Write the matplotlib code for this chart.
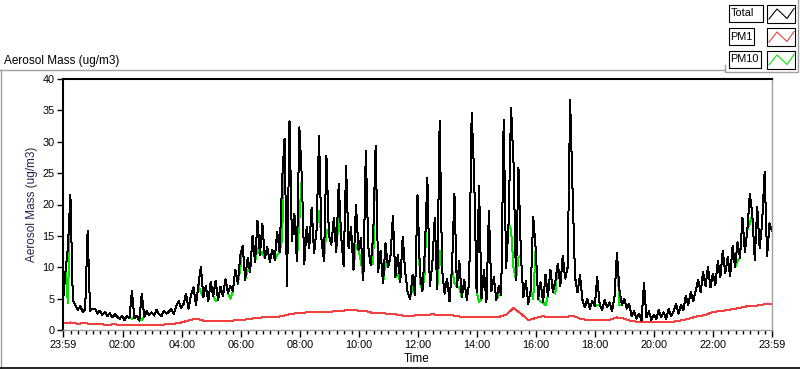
"""Aerosol mass over one day (Total / PM1 / PM10), LabVIEW-style chart."""

import matplotlib
matplotlib.use("Agg")
import matplotlib.pyplot as plt
import numpy as np
from matplotlib.patches import Rectangle

plt.rcParams["font.family"] = ["Liberation Sans", "DejaVu Sans"]

# sampling: minutes after midnight, the day starts at 23:59 of the day before
START_MIN = -1
TOTAL_STEP_MIN = 5
PM1_STEP_MIN = 15

# Total aerosol mass (ug/m3), one value every 5 min
total = [
    4.5, 9.3, 13.2, 21.6, 4.8, 4.0, 3.2, 3.8, 2.9, 3.3, 15.8, 3.0,
    3.4, 3.4, 2.6, 3.1, 2.4, 2.9, 2.2, 2.7, 2.0, 2.5, 2.1, 1.8,
    2.3, 1.6, 2.2, 1.9, 6.2, 1.9, 2.3, 1.5, 5.8, 2.1, 3.0, 2.4,
    2.8, 2.3, 3.2, 2.5, 2.2, 3.1, 2.6, 2.9, 3.3, 2.5, 3.8, 4.6,
    3.5, 4.2, 5.8, 3.4, 5.6, 6.8, 4.0, 7.2, 10.0, 5.3, 7.0, 4.6,
    7.6, 5.4, 7.8, 4.8, 6.9, 5.4, 8.1, 5.9, 7.0, 6.2, 9.6, 7.4,
    11.8, 13.4, 8.0, 11.5, 9.2, 15.0, 10.8, 17.4, 12.0, 16.9, 11.4, 13.2,
    10.9, 12.8, 11.2, 15.6, 12.4, 23.8, 30.5, 7.0, 33.3, 14.2, 18.5, 11.0,
    32.3, 24.4, 10.5, 16.5, 13.0, 19.5, 12.2, 16.0, 30.9, 14.5, 11.0, 27.8,
    15.2, 13.6, 17.8, 12.4, 23.3, 14.8, 10.2, 26.1, 13.0, 16.4, 9.6, 20.0,
    12.8, 14.6, 8.0, 28.5, 13.2, 10.4, 15.0, 29.4, 9.2, 12.6, 7.5, 13.8,
    10.0, 11.6, 18.1, 8.4, 12.0, 7.6, 14.9, 9.2, 6.0, 5.0, 8.8, 5.5,
    21.5, 9.0, 6.2, 12.8, 24.2, 7.0, 10.4, 17.9, 6.5, 33.3, 9.6, 5.8,
    8.2, 4.6, 9.8, 21.7, 6.8, 11.0, 5.2, 8.0, 4.8, 7.6, 34.6, 24.8,
    6.0, 23.0, 5.0, 9.5, 4.4, 19.0, 6.2, 8.4, 4.8, 7.0, 5.6, 33.5,
    9.8, 17.0, 35.4, 26.7, 8.0, 25.9, 12.0, 5.2, 7.8, 4.2, 6.4, 18.0,
    13.0, 5.0, 7.6, 4.4, 8.8, 5.4, 9.6, 6.0, 7.8, 10.6, 7.0, 11.8,
    8.2, 10.0, 36.6, 22.0, 8.4, 6.0, 8.8, 4.8, 3.6, 5.0, 3.4, 4.6,
    3.8, 8.4, 4.0, 3.2, 4.8, 3.6, 4.4, 3.0, 5.2, 12.3, 6.4, 4.0,
    5.0, 3.4, 4.2, 2.2, 3.0, 1.8, 2.6, 1.5, 7.5, 2.0, 3.0, 1.6,
    2.4, 1.8, 3.2, 2.0, 2.8, 1.7, 3.4, 2.2, 3.0, 4.2, 2.6, 4.0,
    3.2, 5.4, 4.0, 6.0, 4.6, 6.2, 8.0, 6.0, 9.2, 7.0, 10.0, 6.8,
    9.0, 7.2, 11.0, 8.4, 12.6, 9.0, 11.6, 8.6, 13.4, 10.0, 14.0, 11.5,
    17.9, 12.4, 16.0, 21.7, 18.4, 11.2, 19.6, 13.0, 17.2, 25.2, 11.8, 17.0,
    15.8,
]

# PM10 (ug/m3), same 5 min grid
pm10 = [
    4.5, 9.3, 4.3, 21.6, 4.8, 4.0, 3.2, 3.8, 2.9, 3.3, 15.8, 3.0,
    3.4, 3.4, 2.6, 3.1, 2.4, 2.9, 2.2, 2.7, 2.0, 2.5, 2.1, 1.8,
    2.3, 1.6, 2.2, 1.9, 1.8, 1.9, 2.3, 1.5, 1.6, 2.1, 3.0, 2.4,
    2.8, 2.3, 3.2, 2.5, 2.2, 3.1, 2.6, 2.9, 3.3, 2.5, 3.8, 4.6,
    3.5, 4.2, 5.8, 3.4, 5.6, 6.8, 4.0, 7.2, 6.0, 5.3, 7.0, 4.6,
    7.6, 5.4, 4.6, 4.8, 6.9, 5.4, 8.1, 5.9, 5.0, 6.2, 9.6, 7.4,
    9.8, 13.4, 8.0, 9.6, 9.2, 15.0, 10.8, 13.0, 12.0, 12.4, 11.4, 13.2,
    10.9, 12.8, 11.2, 12.0, 12.4, 14.5, 30.5, 7.0, 33.3, 14.2, 18.5, 11.0,
    17.5, 24.4, 10.5, 16.5, 13.0, 19.5, 12.2, 16.0, 19.0, 14.5, 11.0, 16.0,
    15.2, 13.6, 17.8, 12.4, 18.0, 14.8, 10.2, 26.1, 13.0, 16.4, 9.6, 13.6,
    12.8, 11.0, 8.0, 28.5, 13.2, 10.4, 10.6, 29.4, 9.2, 12.6, 7.5, 10.8,
    10.0, 11.6, 18.1, 8.4, 9.0, 7.6, 14.9, 9.2, 6.0, 5.0, 6.8, 5.5,
    21.5, 7.6, 6.2, 9.4, 24.2, 7.0, 10.4, 17.9, 6.5, 12.6, 9.6, 5.8,
    8.2, 4.6, 9.8, 7.5, 6.8, 6.8, 5.2, 8.0, 4.8, 7.6, 34.6, 24.8,
    6.0, 4.5, 5.0, 9.5, 4.4, 19.0, 6.2, 8.4, 4.8, 5.6, 5.6, 33.5,
    9.8, 17.0, 16.0, 10.0, 8.0, 11.5, 12.0, 5.2, 7.8, 4.2, 6.4, 5.0,
    13.0, 5.0, 4.5, 4.4, 4.0, 5.4, 9.6, 6.0, 5.8, 10.6, 7.0, 11.8,
    8.2, 10.0, 36.6, 22.0, 8.4, 6.0, 8.8, 4.8, 3.6, 5.0, 3.4, 4.6,
    3.8, 4.0, 4.0, 3.2, 4.8, 3.6, 4.4, 3.0, 5.2, 12.3, 4.0, 4.0,
    5.0, 3.4, 4.2, 2.2, 3.0, 1.8, 2.6, 1.5, 7.5, 2.0, 3.0, 1.6,
    2.4, 1.8, 3.2, 2.0, 2.8, 1.7, 3.4, 2.2, 3.0, 4.2, 2.6, 4.0,
    3.2, 5.4, 4.0, 6.0, 4.6, 6.2, 8.0, 6.0, 9.2, 7.0, 10.0, 6.8,
    9.0, 7.2, 11.0, 8.4, 12.6, 9.0, 11.6, 8.6, 13.4, 10.0, 11.0, 11.5,
    17.9, 12.4, 16.0, 17.0, 18.4, 11.2, 19.6, 13.0, 17.2, 25.2, 11.8, 17.0,
    15.8,
]

# PM1 (ug/m3), one value every 15 min
pm1 = [
    1.1, 1.2, 1.0, 1.1, 0.9, 0.9, 0.85, 0.9, 0.8, 0.8, 0.75, 0.8,
    0.75, 0.8, 0.9, 1.0, 1.2, 1.5, 1.8, 1.5, 1.4, 1.4, 1.4, 1.5,
    1.6, 1.7, 1.9, 2.0, 2.0, 2.1, 2.3, 2.6, 2.7, 2.8, 2.8, 2.9,
    2.9, 3.0, 3.1, 3.2, 3.1, 3.0, 2.7, 2.7, 2.6, 2.5, 2.3, 2.2,
    2.4, 2.4, 2.5, 2.4, 2.4, 2.3, 2.1, 2.0, 2.0, 2.0, 2.0, 2.1,
    2.4, 3.5, 2.6, 1.6, 1.9, 2.2, 2.0, 2.0, 2.0, 2.3, 1.8, 1.6,
    1.6, 1.6, 1.6, 2.0, 1.8, 1.4, 1.3, 1.2, 1.2, 1.2, 1.2, 1.4,
    1.6, 1.9, 2.2, 2.4, 2.9, 3.0, 3.2, 3.4, 3.6, 3.9, 3.9, 4.1,
    4.2,
]

tick_minutes = [-1, 120, 240, 360, 480, 600, 720, 840, 960, 1080, 1200, 1320, 1439]
tick_labels = ["23:59", "02:00", "04:00", "06:00", "08:00", "10:00", "12:00",
               "14:00", "16:00", "18:00", "20:00", "22:00", "23:59"]
y_ticks = [0, 5, 10, 15, 20, 25, 30, 35, 40]

legend_names = ["Total", "PM1", "PM10"]
colors = {"Total": "black", "PM1": "#f23f3f", "PM10": "#00e600"}

W, H = 800, 369
fig = plt.figure(figsize=(W / 100, H / 100), dpi=100)
fig.patch.set_facecolor("white")

# plot area in pixel terms: x 63..772, y 79..330
ax = fig.add_axes([63 / W, 1 - 330 / H, 709 / W, 251 / H])

t_total = START_MIN + TOTAL_STEP_MIN * np.arange(len(total))
t_pm1 = START_MIN + PM1_STEP_MIN * np.arange(len(pm1))

# LabVIEW draws 1 px lines without anti-aliasing; Total sits on top of PM10
ax.plot(t_total, pm10, color=colors["PM10"], lw=0.72, antialiased=False)
ax.plot(t_pm1, pm1, color=colors["PM1"], lw=0.72, antialiased=False)
ax.plot(t_total, total, color=colors["Total"], lw=0.72, antialiased=False)

ax.set_xlim(tick_minutes[0], tick_minutes[-1])
ax.set_ylim(0, 40)

ax.set_yticks(y_ticks)
ax.set_yticklabels([str(v) for v in y_ticks])
ax.set_xticks(tick_minutes)
ax.set_xticklabels(tick_labels)
minor = [m for m in range(15, 1440, 15) if m % 120 != 0]
ax.set_xticks(minor, minor=True)

ax.tick_params(axis="y", direction="out", length=4, width=1, pad=2,
               labelsize=7.8, colors="black")
ax.tick_params(axis="x", which="major", direction="out", length=5, width=1,
               pad=2, labelsize=7.8)
ax.tick_params(axis="x", which="minor", direction="out", length=3, width=1)

for side in ("left", "top"):
    ax.spines[side].set_color("black")
    ax.spines[side].set_linewidth(1.5)
for side in ("right", "bottom"):
    ax.spines[side].set_color("#a0a0a0")
    ax.spines[side].set_linewidth(1.0)

# overlay in pixel coordinates for the panel frame, labels and legend
ov = fig.add_axes([0, 0, 1, 1])
ov.set_xlim(0, W)
ov.set_ylim(H, 0)
ov.axis("off")
ov.patch.set_visible(False)

frame = "#a0a0a0"
ov.plot([0, 724], [69.5, 69.5], color=frame, lw=1)
ov.plot([0.5, 0.5], [69.5, 368], color=frame, lw=1)
ov.plot([0, 800], [367.5, 367.5], color="black", lw=1.2)
ov.plot([724.5, 724.5, 797.5, 797.5], [65, 72, 72, 0], color=frame, lw=1)

ov.text(4, 61, "Aerosol Mass (ug/m3)", fontsize=8.5, va="center", ha="left")
ov.text(32, 204, "Aerosol Mass (ug/m3)", fontsize=8.5, rotation=90,
        va="center", ha="center", color="#1c2450")
ov.text(417, 359, "Time", fontsize=8.5, va="center", ha="center")

box_widths = {"Total": 34, "PM1": 25, "PM10": 32}
for k, name in enumerate(legend_names):
    y0 = 4 + 23 * k
    ov.add_patch(Rectangle((728.5, y0 + 0.5), box_widths[name], 17,
                           facecolor="white", edgecolor="black", lw=0.8))
    ov.text(730.5, y0 + 9.5, name, fontsize=7.8, va="center", ha="left")
    ov.add_patch(Rectangle((767, y0 + 0.5), 28, 18,
                           facecolor="white", edgecolor="black", lw=0.8))
    ov.plot([769, 777, 787, 794], [y0 + 15, y0 + 5, y0 + 14.5, y0 + 4.5],
            color=colors[name], lw=0.8)

fig.savefig("out.png", dpi=100)
